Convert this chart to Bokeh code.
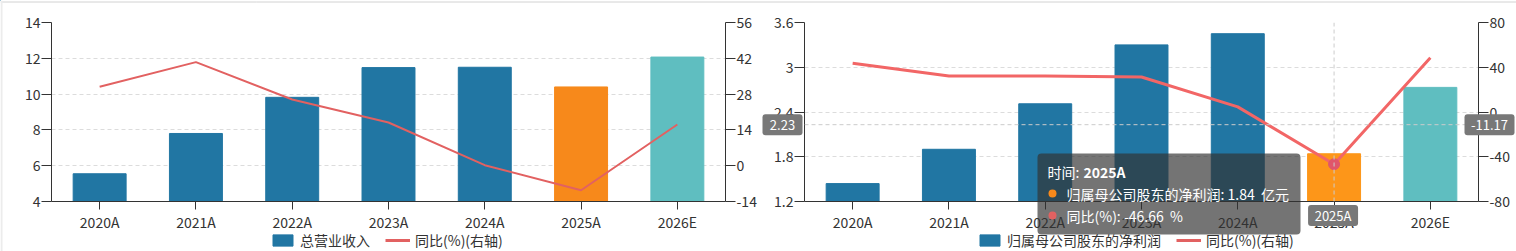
from bokeh.plotting import figure
from bokeh.models import (Range1d, LinearAxis, FixedTicker, ColumnDataSource, Legend,
                          LegendItem, Span, Label, CustomJSTickFormatter)
from bokeh.layouts import row
from bokeh.embed import file_html
from bokeh.resources import INLINE

# ---------------- data ----------------
categories = ["2020A", "2021A", "2022A", "2023A", "2024A", "2025A", "2026E"]
revenue = [5.55, 7.80, 9.82, 11.48, 11.50, 10.40, 12.07]
revenue_yoy = [30.9, 40.5, 25.9, 16.9, 0.2, -9.6, 16.1]
profit = [1.44, 1.90, 2.51, 3.30, 3.45, 1.84, 2.73]
profit_yoy = [43.6, 32.2, 32.1, 31.3, 4.6, -46.66, 48.4]

rev_ticks = [4, 6, 8, 10, 12, 14]
rev_yoy_ticks = [-14, 0, 14, 28, 42, 56]
profit_ticks = [1.2, 1.8, 2.4, 3.0, 3.6]
profit_yoy_ticks = [-80, -40, 0, 40, 80]

rev_label = "总营业收入"
profit_label = "归属母公司股东的净利润"
yoy_label = "同比(%)(右轴)"
profit_unit = "亿元"

hover_idx = 5
hover_left_value = 2.23
hover_right_value = -11.17

BLUE = "#2176a3"
ORANGE = "#f7891b"
ORANGE_HI = "#fd9619"
TEAL = "#5fbec0"
RED = "#e26161"
RED_HI = "#f26666"
FONT = "Noto Sans CJK SC"
TXT = "#333333"

left_colors = [BLUE] * 5 + [ORANGE, TEAL]
right_colors = [BLUE] * 5 + [ORANGE_HI, TEAL]

W, H = 1516, 251
FRAME_W, FRAME_H, TOP, BOTTOM = 674, 179, 22, 50

num_fmt = "return String(Math.round(tick*10)/10);"   # ASCII hyphen, '3' instead of '3.0'


def make_chart(values, yoy, ticks, yoy_ticks, colors, bl, br, line_w, line_color):
    p = figure(frame_width=FRAME_W, frame_height=FRAME_H, x_range=categories,
               y_range=Range1d(ticks[0], ticks[-1]),
               min_border_left=bl, min_border_right=br, min_border_top=TOP, min_border_bottom=BOTTOM,
               toolbar_location=None, output_backend="svg", outline_line_color=None)
    p.extra_y_ranges = {"yoy": Range1d(yoy_ticks[0], yoy_ticks[-1])}
    src = ColumnDataSource(dict(cat=categories, val=values, yoy=yoy, color=colors))
    p.vbar(x="cat", top="val", bottom=0, width=0.55, color="color", source=src)
    p.line(x="cat", y="yoy", y_range_name="yoy", line_color=line_color,
           line_width=line_w, source=src)
    raxis = LinearAxis(y_range_name="yoy")
    p.add_layout(raxis, "right")
    p.yaxis[0].ticker = FixedTicker(ticks=ticks)
    raxis.ticker = FixedTicker(ticks=yoy_ticks)
    p.yaxis[0].formatter = CustomJSTickFormatter(code=num_fmt)
    raxis.formatter = CustomJSTickFormatter(code=num_fmt)
    for ax in [p.yaxis[0], raxis, p.xaxis[0]]:
        ax.axis_line_color = TXT
        ax.major_tick_line_color = TXT
        ax.major_tick_in = 0
        ax.minor_tick_line_color = None
        ax.major_label_text_font = FONT
        ax.major_label_text_font_size = "14px"
        ax.major_label_text_color = TXT
    for ax in [p.yaxis[0], raxis]:
        ax.major_tick_out = 10
        ax.major_label_standoff = 1
    p.xaxis[0].major_tick_out = 8
    p.xaxis[0].major_label_standoff = 2
    p.xgrid.grid_line_color = None
    p.ygrid.ticker = FixedTicker(ticks=ticks)
    p.ygrid.grid_line_color = "#dcdcdc"
    p.ygrid.grid_line_dash = "4 3"
    return p


p1 = make_chart(revenue, revenue_yoy, rev_ticks, rev_yoy_ticks, left_colors, 51, 33, 2, RED)
p2 = make_chart(profit, profit_yoy, profit_ticks, profit_yoy_ticks, right_colors, 45, 43, 3, RED_HI)

# hover crosshair + point inside right frame
hx = hover_idx + 0.5
p2.add_layout(Span(location=hx, dimension="height", line_color="#cccccc", line_dash="4 3", line_width=1))
p2.add_layout(Span(location=hover_left_value, dimension="width", line_color="#cccccc",
                   line_dash="4 3", line_width=1))
p2.scatter(x=[categories[hover_idx]], y=[profit_yoy[hover_idx]], y_range_name="yoy",
           size=11, color="#e0566a", line_color="#e0566a")

# ---------------- overlay (full-page frame, pixel coordinates) ----------------
ov = figure(width=W, height=H, x_range=Range1d(0, W), y_range=Range1d(H, 0),
            min_border=0, toolbar_location=None, output_backend="svg",
            x_axis_type=None, y_axis_type=None, outline_line_color=None,
            background_fill_alpha=0, border_fill_alpha=0,
            styles={"position": "absolute", "left": "0px", "top": "0px"})
ov.grid.visible = False

# page border
ov.add_layout(Span(location=1.5, dimension="width", line_color="#d2d2d2", line_width=1))
ov.add_layout(Span(location=1, dimension="height", line_color="#ececec", line_width=2))


# legends (real Legend objects; their sample renderers hold one point placed off-page)
def add_legend(x0, bar_label):
    b = ov.vbar(x=[-1000], top=[-1000], width=1, color=BLUE)
    l = ov.line(x=[-1000, -999], y=[-1000, -1000], line_color=RED, line_width=3)
    lg = Legend(items=[LegendItem(label=bar_label, renderers=[b]),
                       LegendItem(label=yoy_label, renderers=[l])],
                orientation="horizontal", location=(x0, 1),
                label_text_font=FONT, label_text_font_size="14px", label_text_color=TXT,
                glyph_width=25, glyph_height=14, label_height=14, spacing=15, label_standoff=5,
                border_line_color=None, background_fill_alpha=0, padding=0, margin=0)
    ov.add_layout(lg, "center")


add_legend(270, rev_label)
add_legend(977, profit_label)

# mapping of the right chart's scales into page pixels
FX0, FX1, FY0, FY1 = 758 + 45, 758 + 45 + FRAME_W, TOP, TOP + FRAME_H


def px_cat(i):
    return FX0 + (i + 0.5) * (FX1 - FX0) / len(categories)


def py_left(v):
    lo, hi = profit_ticks[0], profit_ticks[-1]
    return FY1 - (v - lo) * (FY1 - FY0) / (hi - lo)


# axis-pointer value boxes
PTR_H = 21
hy = py_left(hover_left_value)
pointer_boxes = [  # (left, right, centre y, text)
    (FX0 - 41, FX0 - 1, hy, f"{hover_left_value:.2f}"),
    (FX1 - 13, FX1 + 37, hy, f"{hover_right_value:.2f}"),
    (px_cat(hover_idx) - 25, px_cat(hover_idx) + 25, FY1 + 14, categories[hover_idx]),
]
for l_, r_, cy, t_ in pointer_boxes:
    ov.quad(left=[l_], right=[r_], top=[cy - PTR_H / 2], bottom=[cy + PTR_H / 2],
            fill_color="#787878", line_color=None, border_radius=3)
    ov.add_layout(Label(x=(l_ + r_) / 2, y=cy, text=t_, text_align="center", text_baseline="middle",
                        text_color="white", text_font=FONT, text_font_size="13px"))

# tooltip
TIP_L, TIP_R, TIP_T, TIP_B = 1037, 1300, 153, 234
ov.quad(left=[TIP_L], right=[TIP_R], top=[TIP_T], bottom=[TIP_B], fill_color="#323232",
        fill_alpha=0.68, line_color=None, border_radius=4)
tip = dict(text_color="white", text_font=FONT, text_font_size="14px", text_baseline="middle")
ov.add_layout(Label(x=TIP_L + 10, y=TIP_T + 18, text="时间:", **tip))
ov.add_layout(Label(x=TIP_L + 46, y=TIP_T + 18, text=categories[hover_idx],
                    text_font_style="bold", **tip))
ov.scatter(x=[TIP_L + 15, TIP_L + 15], y=[TIP_T + 40, TIP_T + 62], size=8,
           color=[ORANGE, RED], line_color=None)
ov.add_layout(Label(x=TIP_L + 29, y=TIP_T + 40,
                    text=f"{profit_label}: {profit[hover_idx]:.2f}\u00a0\u00a0{profit_unit}", **tip))
ov.add_layout(Label(x=TIP_L + 29, y=TIP_T + 62,
                    text=f"同比(%): {profit_yoy[hover_idx]:.2f}\u00a0\u00a0%", **tip))

layout = row(p1, p2)
open("out.html", "w").write(file_html([layout, ov], INLINE))
